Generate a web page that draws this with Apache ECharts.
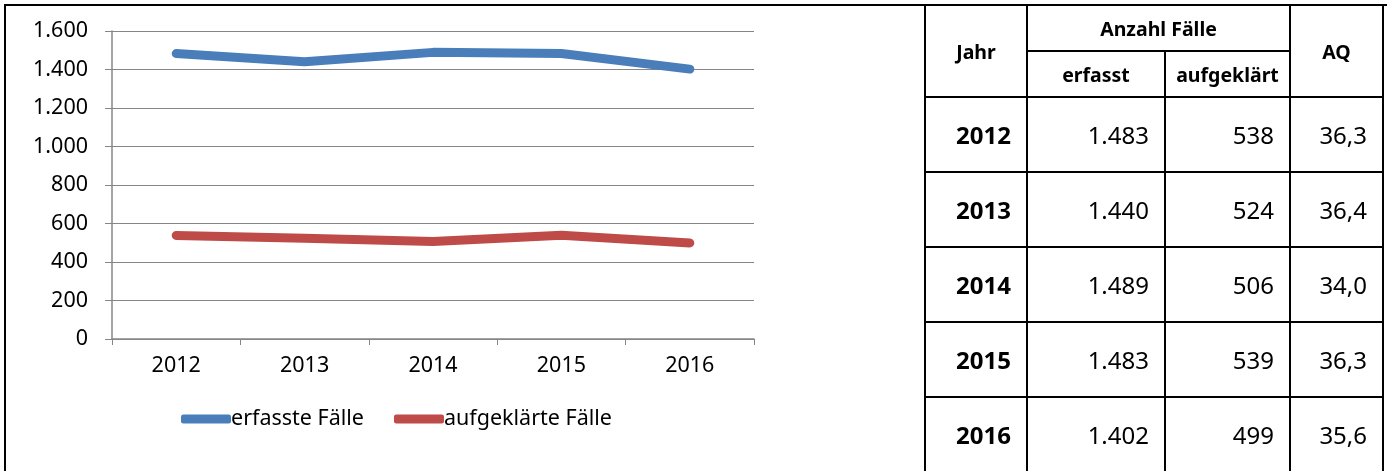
<!DOCTYPE html>
<html>
<head>
<meta charset="utf-8">
<script src="https://cdn.jsdelivr.net/npm/echarts@6/dist/echarts.min.js"></script>
<style>
  html, body { margin: 0; padding: 0; background: #fff; }
  body { width: 1387px; height: 471px; position: relative; overflow: hidden; font-family: "Noto Sans", sans-serif; }
  #frame { position: absolute; left: 4px; top: 4px; width: 1400px; height: 500px; border-left: 2px solid #000; border-top: 2px solid #000; }
  #chart { position: absolute; left: 0; top: 0; width: 925px; height: 471px; }
  #tbl { position: absolute; left: 924px; top: 4px; border-collapse: collapse; table-layout: fixed; width: 458px; color: #000; }
  #tbl td, #tbl th { border: 2px solid #000; padding: 0 15px 0 0; font-size: 24px; box-sizing: border-box; }
  #tbl th { font-size: 19.5px; font-weight: bold; text-align: center; padding: 0; }
  #tbl td { text-align: right; height: 75px; }
  #tbl td.y { font-weight: bold; }
</style>
</head>
<body>
<div id="frame"></div>
<div id="chart"></div>
<table id="tbl">
  <colgroup><col style="width:102px"><col style="width:138px"><col style="width:125px"><col style="width:93px"></colgroup>
  <tbody id="tb"></tbody>
</table>
<script>
var years = ['2012', '2013', '2014', '2015', '2016'];
var erfasst = [1483, 1440, 1489, 1483, 1402];
var aufgeklaert = [538, 524, 506, 539, 499];
var aq = ['36,3', '36,4', '34,0', '36,3', '35,6'];

function fmt(v) {
  return String(v).replace(/\B(?=(\d{3})+(?!\d))/g, '.');
}

// Tabelle rechts
var html = '<tr style="height:46px"><th rowspan="2">Jahr</th><th colspan="2">Anzahl Fälle</th><th rowspan="2">AQ</th></tr>' +
  '<tr style="height:46px"><th>erfasst</th><th>aufgeklärt</th></tr>';
years.forEach(function (y, i) {
  html += '<tr><td class="y">' + y + '</td><td>' + fmt(erfasst[i]) + '</td><td>' + aufgeklaert[i] + '</td><td>' + aq[i] + '</td></tr>';
});
document.getElementById('tb').innerHTML = html;

var myChart = echarts.init(document.getElementById('chart'));
var option = {
  animation: false,
  textStyle: { fontFamily: '"Noto Sans", sans-serif' },
  grid: { left: 112, right: 171, top: 31, bottom: 132 },
  legend: {
    left: 176,
    top: 403,
    itemWidth: 50,
    itemHeight: 9,
    itemGap: 30,
    icon: 'roundRect',
    textStyle: { fontSize: 21.5, color: '#000', padding: [0, 0, 0, -5] },
    data: ['erfasste Fälle', 'aufgeklärte Fälle']
  },
  xAxis: {
    type: 'category',
    data: years,
    boundaryGap: true,
    axisLine: { lineStyle: { color: '#868686', width: 1.5 } },
    axisTick: { show: true, length: 6, lineStyle: { color: '#868686' } },
    axisLabel: { color: '#000', fontSize: 21.5, margin: 16 }
  },
  yAxis: {
    type: 'value',
    min: 0,
    max: 1600,
    interval: 200,
    axisLine: { show: true, lineStyle: { color: '#868686', width: 1.5 } },
    axisTick: { show: true, length: 7, lineStyle: { color: '#868686' } },
    axisLabel: { color: '#000', fontSize: 21.5, margin: 24, formatter: function (v) { return fmt(v); } },
    splitLine: { lineStyle: { color: '#868686', width: 1 } }
  },
  series: [
    {
      name: 'erfasste Fälle',
      type: 'line',
      data: erfasst,
      symbol: 'none',
      color: '#4a7ebb',
      lineStyle: { width: 9, cap: 'round', join: 'round' }
    },
    {
      name: 'aufgeklärte Fälle',
      type: 'line',
      data: aufgeklaert,
      symbol: 'none',
      color: '#be4b48',
      lineStyle: { width: 9, cap: 'round', join: 'round' }
    }
  ]
};
myChart.setOption(option);
</script>
</body>
</html>
